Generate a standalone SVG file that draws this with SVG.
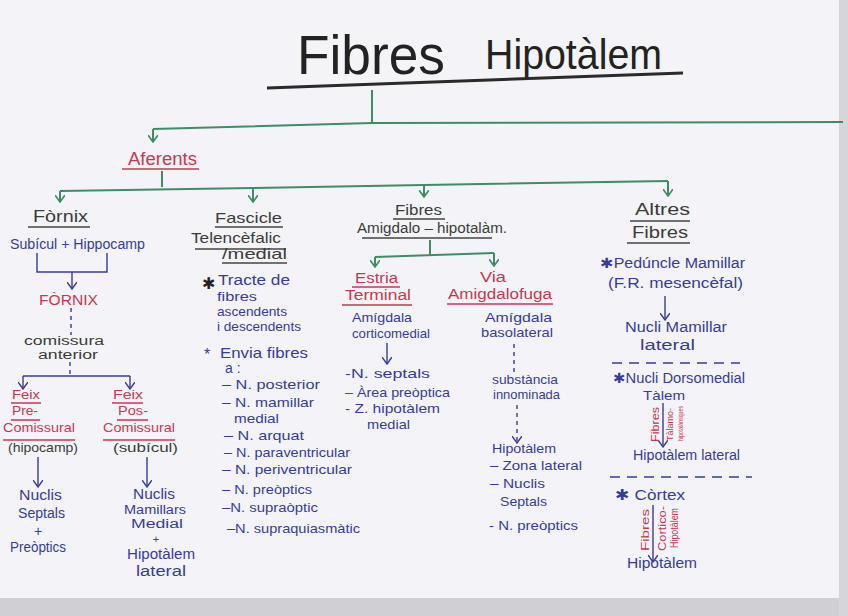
<svg xmlns="http://www.w3.org/2000/svg" width="848" height="616" viewBox="0 0 848 616">
<defs>
<style>
text{font-family:"Liberation Sans",Arial,sans-serif;font-size:13px}
.b{fill:#383c98}
.r{fill:#c63851}
.g{fill:#3b3b3b}
.gc{stroke:#3f8d63;stroke-width:2;fill:none}
.bc{stroke:#373c9a;stroke-width:1.4;fill:none}
.d{stroke-dasharray:4,4}
.ul{stroke:#444;stroke-width:1.5}
.ur{stroke:#c63851;stroke-width:1.5}
</style>
<marker id="ag" markerWidth="10" markerHeight="8" refX="5" refY="7" markerUnits="userSpaceOnUse" viewBox="0 0 10 8"><path d="M0,0 L5,7 L10,0" fill="none" stroke="#3f8d63" stroke-width="1.6"/></marker>
<marker id="ab" markerWidth="10" markerHeight="8" refX="5" refY="7" markerUnits="userSpaceOnUse" viewBox="0 0 10 8"><path d="M0,0 L5,7 L10,0" fill="none" stroke="#373c9a" stroke-width="1.4"/></marker>
</defs>
<rect width="848" height="616" fill="#f4f4f8"/>
<rect x="0" y="598" width="848" height="18" fill="#cfcfd4"/>
<rect x="839" y="0" width="9" height="616" fill="#d6d6da"/>

<g id="title">
<text x="297" y="74" style="font-size:56px" fill="#222" textLength="148" lengthAdjust="spacingAndGlyphs">Fibres</text>
<text x="485" y="69" style="font-size:42px" fill="#222" textLength="177" lengthAdjust="spacingAndGlyphs">Hipotàlem</text>
<line x1="267" y1="88" x2="683" y2="73" stroke="#2a2a2a" stroke-width="3"/>
</g>

<g id="connectors">
<path class="gc" d="M372,90 V123"/>
<path class="gc" d="M153,129 L372,123 L843,122"/>
<path class="gc" d="M153,129 V142" marker-end="url(#ag)"/>
<path class="gc" d="M162,171 V187"/>
<path class="gc" d="M60,191 L253,188 L424,185 L668,181"/>
<path class="gc" d="M60,191 V202" marker-end="url(#ag)"/>
<path class="gc" d="M253,188 V202" marker-end="url(#ag)"/>
<path class="gc" d="M424,185 V197" marker-end="url(#ag)"/>
<path class="gc" d="M668,181 V196" marker-end="url(#ag)"/>
<path class="gc" d="M430,240 V255"/>
<path class="gc" d="M375,257 L494,253"/>
<path class="gc" d="M375,257 V267" marker-end="url(#ag)"/>
<path class="gc" d="M494,253 V266" marker-end="url(#ag)"/>

<path class="bc" d="M37,253 V272 H107 V253"/>
<path class="bc" d="M72,272 V289" marker-end="url(#ab)"/>
<path class="bc d" d="M71,308 V335"/>
<path class="bc d" d="M70,362 V376"/>
<path class="bc" d="M23,376 H130"/>
<path class="bc" d="M23,376 V389" marker-end="url(#ab)"/>
<path class="bc" d="M130,376 V389" marker-end="url(#ab)"/>
<path class="bc" d="M38,457 V487" marker-end="url(#ab)"/>
<path class="bc" d="M147,457 V487" marker-end="url(#ab)"/>
<path class="bc" d="M387,343 V364" marker-end="url(#ab)"/>
<path class="bc d" d="M514,344 V376"/>
<path class="bc d" d="M517,405 V443" marker-end="url(#ab)"/>
<path class="bc" d="M665,296 V320" marker-end="url(#ab)"/>
<path class="bc" d="M612,363 H740" stroke-dasharray="10,7"/>
<path class="bc" d="M663,403 V447" marker-end="url(#ab)"/>
<path class="bc" d="M610,477 H752" stroke-dasharray="10,7"/>
<path class="bc" d="M653,505 V562" marker-end="url(#ab)"/>
</g>

<g id="aferents">
<text x="128" y="165" class="r" style="font-size:18px" textLength="69" lengthAdjust="spacingAndGlyphs">Aferents</text>
<line x1="122" y1="169" x2="199" y2="169" class="ur"/>
</g>

<g id="fornix">
<text x="33" y="222" class="g" style="font-size:16px" textLength="55" lengthAdjust="spacingAndGlyphs">Fòrnix</text>
<line x1="28" y1="227" x2="90" y2="227" class="ul"/>
<text x="10" y="249" class="b" style="font-size:14px" textLength="135" lengthAdjust="spacingAndGlyphs">Subícul + Hippocamp</text>
<text x="39" y="305" class="r" style="font-size:14px" textLength="59" lengthAdjust="spacingAndGlyphs">FÒRNIX</text>
<text x="24" y="345" class="g" style="font-size:12px" textLength="80" lengthAdjust="spacingAndGlyphs">comissura</text>
<text x="38" y="359" class="g" style="font-size:12px" textLength="60" lengthAdjust="spacingAndGlyphs">anterior</text>
</g>

<g id="feix-pre">
<text x="12" y="399" class="r" textLength="28" lengthAdjust="spacingAndGlyphs">Feix</text>
<line x1="11" y1="403" x2="41" y2="403" class="ur"/>
<text x="12" y="415" class="r" textLength="26" lengthAdjust="spacingAndGlyphs">Pre-</text>
<line x1="11" y1="420" x2="40" y2="420" class="ur"/>
<text x="3" y="432" class="r" textLength="72" lengthAdjust="spacingAndGlyphs">Comissural</text>
<line x1="3" y1="440" x2="75" y2="440" class="ur"/>
<text x="8" y="452" class="g" textLength="70" lengthAdjust="spacingAndGlyphs">(hipocamp)</text>
</g>
<g id="nuclis-septals">
<text x="19" y="500" class="b" style="font-size:14px" textLength="43" lengthAdjust="spacingAndGlyphs">Nuclis</text>
<text x="18" y="518" class="b" style="font-size:14px" textLength="47" lengthAdjust="spacingAndGlyphs">Septals</text>
<text x="38" y="536" class="b" style="font-size:14px" text-anchor="middle">+</text>
<text x="10" y="552" class="b" style="font-size:14px" textLength="56" lengthAdjust="spacingAndGlyphs">Preòptics</text>
</g>

<g id="feix-pos">
<text x="113" y="399" class="r" textLength="30" lengthAdjust="spacingAndGlyphs">Feix</text>
<line x1="112" y1="403" x2="143" y2="403" class="ur"/>
<text x="118" y="415" class="r" textLength="30" lengthAdjust="spacingAndGlyphs">Pos-</text>
<line x1="117" y1="420" x2="148" y2="420" class="ur"/>
<text x="103" y="432" class="r" textLength="72" lengthAdjust="spacingAndGlyphs">Comissural</text>
<line x1="103" y1="440" x2="175" y2="440" class="ur"/>
<text x="113" y="452" class="g" textLength="65" lengthAdjust="spacingAndGlyphs">(subícul)</text>
</g>
<g id="nuclis-mamillars">
<text x="133" y="499" class="b" style="font-size:14px" textLength="42" lengthAdjust="spacingAndGlyphs">Nuclis</text>
<text x="124" y="514" class="b" style="font-size:12px" textLength="62" lengthAdjust="spacingAndGlyphs">Mamillars</text>
<text x="131" y="528" class="b" style="font-size:12px" textLength="52" lengthAdjust="spacingAndGlyphs">Medial</text>
<text x="156" y="543" class="b" style="font-size:11px" text-anchor="middle">+</text>
<text x="127" y="559" class="b" style="font-size:14px" textLength="68" lengthAdjust="spacingAndGlyphs">Hipotàlem</text>
<text x="136" y="576" class="b" style="font-size:14px" textLength="50" lengthAdjust="spacingAndGlyphs">lateral</text>
</g>

<g id="fascicle">
<text x="215" y="223" class="g" style="font-size:15px" textLength="67" lengthAdjust="spacingAndGlyphs">Fascicle</text>
<line x1="215" y1="227" x2="283" y2="227" class="ul"/>
<text x="191" y="243" class="g" style="font-size:15px" textLength="90" lengthAdjust="spacingAndGlyphs">Telencèfalic</text>
<line x1="195" y1="249" x2="286" y2="249" class="ul"/>
<text x="222" y="259" class="g" style="font-size:15px" textLength="65" lengthAdjust="spacingAndGlyphs">/medial</text>
<line x1="222" y1="263" x2="287" y2="263" class="ul"/>
<text x="202" y="289" fill="#222" style="font-size:16px">✱</text>
<text x="218" y="285" class="b" style="font-size:14px" textLength="72" lengthAdjust="spacingAndGlyphs">Tracte de</text>
<text x="217" y="301" class="b" textLength="40" lengthAdjust="spacingAndGlyphs">fibres</text>
<text x="217" y="316" class="b" textLength="70" lengthAdjust="spacingAndGlyphs">ascendents</text>
<text x="217" y="331" class="b" textLength="84" lengthAdjust="spacingAndGlyphs">i descendents</text>
<text x="204" y="360" class="b" style="font-size:16px">*</text>
<text x="220" y="358" class="b" style="font-size:15px" textLength="88" lengthAdjust="spacingAndGlyphs">Envia fibres</text>
<text x="225" y="373" class="b" style="font-size:14px">a :</text>
<text x="222" y="389" class="b" textLength="98" lengthAdjust="spacingAndGlyphs">– N. posterior</text>
<text x="222" y="407" class="b" textLength="92" lengthAdjust="spacingAndGlyphs">– N. mamillar</text>
<text x="234" y="423" class="b" textLength="45" lengthAdjust="spacingAndGlyphs">medial</text>
<text x="224" y="440" class="b" textLength="80" lengthAdjust="spacingAndGlyphs">– N. arquat</text>
<text x="224" y="457" class="b" textLength="126" lengthAdjust="spacingAndGlyphs">– N. paraventricular</text>
<text x="222" y="474" class="b" textLength="130" lengthAdjust="spacingAndGlyphs">– N. periventricular</text>
<text x="222" y="494" class="b" textLength="90" lengthAdjust="spacingAndGlyphs">– N. preòptics</text>
<text x="222" y="512" class="b" textLength="96" lengthAdjust="spacingAndGlyphs">–N. supraòptic</text>
<text x="227" y="533" class="b" textLength="133" lengthAdjust="spacingAndGlyphs">–N. supraquiasmàtic</text>
</g>

<g id="fibres-amigdalo">
<text x="395" y="215" class="g" style="font-size:15px" textLength="47" lengthAdjust="spacingAndGlyphs">Fibres</text>
<line x1="393" y1="219" x2="445" y2="219" class="ul"/>
<text x="357" y="233" class="g" style="font-size:14px" textLength="150" lengthAdjust="spacingAndGlyphs">Amigdalo – hipotalàm.</text>
<line x1="362" y1="238" x2="492" y2="238" class="ul"/>
</g>

<g id="estria-terminal">
<text x="355" y="283" class="r" style="font-size:14px" textLength="43" lengthAdjust="spacingAndGlyphs">Estria</text>
<line x1="352" y1="287" x2="400" y2="287" class="ur"/>
<text x="345" y="300" class="r" style="font-size:14px" textLength="66" lengthAdjust="spacingAndGlyphs">Terminal</text>
<line x1="342" y1="305" x2="412" y2="305" class="ur"/>
<text x="352" y="322" class="b" textLength="60" lengthAdjust="spacingAndGlyphs">Amígdala</text>
<text x="352" y="338" class="b" textLength="78" lengthAdjust="spacingAndGlyphs">corticomedial</text>
<text x="345" y="378" class="b" textLength="85" lengthAdjust="spacingAndGlyphs">-N. septals</text>
<text x="345" y="397" class="b" textLength="105" lengthAdjust="spacingAndGlyphs">– Àrea preòptica</text>
<text x="345" y="413" class="b" textLength="95" lengthAdjust="spacingAndGlyphs">- Z. hipotàlem</text>
<text x="367" y="429" class="b" textLength="43" lengthAdjust="spacingAndGlyphs">medial</text>
</g>

<g id="via-amigdalofuga">
<text x="480" y="282" class="r" style="font-size:14px" textLength="26" lengthAdjust="spacingAndGlyphs">Via</text>
<text x="448" y="299" class="r" style="font-size:14px" textLength="104" lengthAdjust="spacingAndGlyphs">Amigdalofuga</text>
<line x1="447" y1="304" x2="553" y2="304" class="ur"/>
<text x="485" y="322" class="b" textLength="67" lengthAdjust="spacingAndGlyphs">Amígdala</text>
<text x="481" y="337" class="b" textLength="72" lengthAdjust="spacingAndGlyphs">basolateral</text>
<text x="492" y="384" class="b" textLength="66" lengthAdjust="spacingAndGlyphs">substància</text>
<text x="493" y="399" class="b" textLength="67" lengthAdjust="spacingAndGlyphs">innominada</text>
<text x="492" y="453" class="b" textLength="64" lengthAdjust="spacingAndGlyphs">Hipotàlem</text>
<text x="490" y="470" class="b" textLength="92" lengthAdjust="spacingAndGlyphs">– Zona lateral</text>
<text x="490" y="488" class="b" textLength="55" lengthAdjust="spacingAndGlyphs">– Nuclis</text>
<text x="500" y="506" class="b" textLength="47" lengthAdjust="spacingAndGlyphs">Septals</text>
<text x="489" y="530" class="b" textLength="89" lengthAdjust="spacingAndGlyphs">- N. preòptics</text>
</g>

<g id="altres-fibres">
<text x="635" y="215" class="g" style="font-size:16px" textLength="55" lengthAdjust="spacingAndGlyphs">Altres</text>
<line x1="630" y1="221" x2="690" y2="221" class="ul"/>
<text x="632" y="238" class="g" style="font-size:16px" textLength="56" lengthAdjust="spacingAndGlyphs">Fibres</text>
<line x1="627" y1="243" x2="690" y2="243" class="ul"/>
</g>

<g id="peduncle">
<text x="600" y="268" class="b" style="font-size:14px" textLength="145" lengthAdjust="spacingAndGlyphs">✱Pedúncle Mamillar</text>
<text x="608" y="288" class="b" style="font-size:14px" textLength="135" lengthAdjust="spacingAndGlyphs">(F.R. mesencèfal)</text>
<text x="625" y="332" class="b" style="font-size:14px" textLength="102" lengthAdjust="spacingAndGlyphs">Nucli Mamillar</text>
<text x="640" y="350" class="b" style="font-size:14px" textLength="55" lengthAdjust="spacingAndGlyphs">lateral</text>
</g>

<g id="dorsomedial">
<text x="613" y="383" class="b" style="font-size:14px" textLength="132" lengthAdjust="spacingAndGlyphs">✱Nucli Dorsomedial</text>
<text x="643" y="400" class="b" textLength="42" lengthAdjust="spacingAndGlyphs">Tàlem</text>
<text transform="translate(659,442) rotate(-90)" class="r" style="font-size:10px" textLength="35" lengthAdjust="spacingAndGlyphs">Fibres</text>
<text transform="translate(673,441) rotate(-90)" class="r" style="font-size:9px" textLength="33" lengthAdjust="spacingAndGlyphs">Tàlamo-</text>
<text transform="translate(683,441) rotate(-90)" class="r" style="font-size:7px" textLength="35" lengthAdjust="spacingAndGlyphs">hipotalàmiques</text>
<text x="633" y="460" class="b" style="font-size:14px" textLength="107" lengthAdjust="spacingAndGlyphs">Hipotàlem lateral</text>
</g>

<g id="cortex">
<text x="615" y="500" class="b" style="font-size:15px" textLength="70" lengthAdjust="spacingAndGlyphs">✱ Còrtex</text>
<text transform="translate(649,551) rotate(-90)" class="r" style="font-size:11px" textLength="42" lengthAdjust="spacingAndGlyphs">Fibres</text>
<text transform="translate(666,551) rotate(-90)" class="r" style="font-size:11px" textLength="45" lengthAdjust="spacingAndGlyphs">Cortico-</text>
<text transform="translate(678,548) rotate(-90)" class="r" style="font-size:10px" textLength="40" lengthAdjust="spacingAndGlyphs">Hipotàlem</text>
<text x="627" y="568" class="b" style="font-size:14px" textLength="70" lengthAdjust="spacingAndGlyphs">Hipotàlem</text>
</g>
</svg>
